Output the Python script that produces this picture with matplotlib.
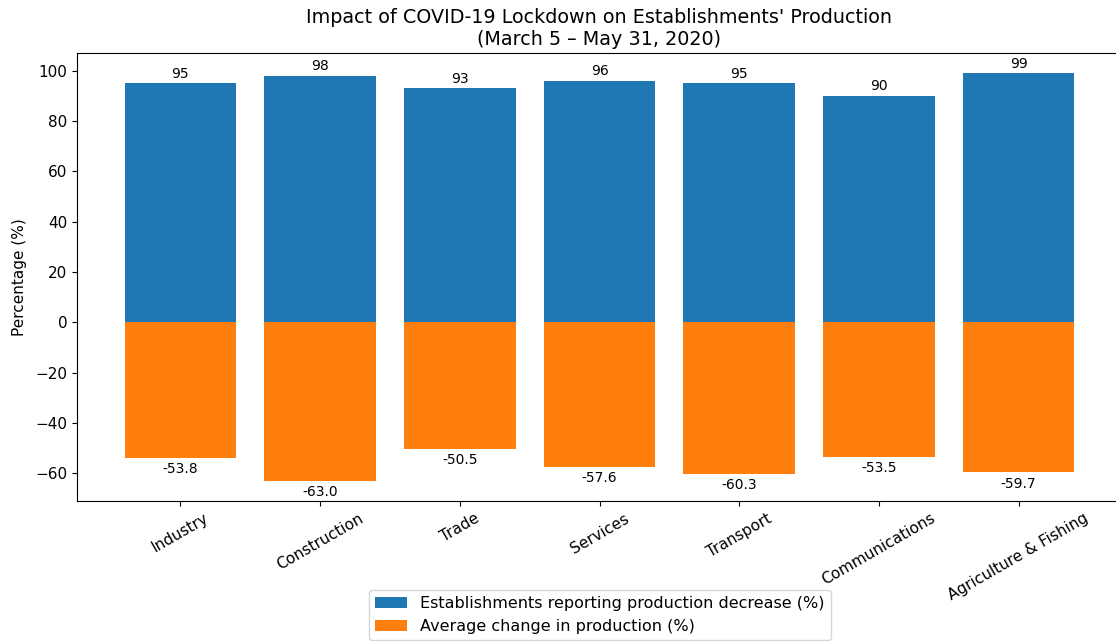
import matplotlib.pyplot as plt
import numpy as np

sectors = ['Industry', 'Construction', 'Trade', 'Services', 'Transport',
           'Communications', 'Agriculture & Fishing']
pct_decrease = [95, 98, 93, 96, 95, 90, 99]
avg_change = [-53.8, -63.0, -50.5, -57.6, -60.3, -53.5, -59.7]

fig = plt.figure(figsize=(11.16, 6.41), dpi=100)
# axes runs slightly past the right edge, like the cropped original
ax = fig.add_axes([77 / 1116, 1 - 501 / 641, (1122 - 77) / 1116, 448 / 641])

x = np.arange(len(sectors))
b1 = ax.bar(x, pct_decrease, width=0.8, color='#1f77b4',
            label='Establishments reporting production decrease (%)')
b2 = ax.bar(x, avg_change, width=0.8, color='#ff7f0e',
            label='Average change in production (%)')

ax.bar_label(b1, labels=[f'{v}' for v in pct_decrease], padding=2, fontsize=10)
ax.bar_label(b2, labels=[f'{v:.1f}' for v in avg_change], padding=3, fontsize=10)

ax.set_xticks(x)
ax.set_xticklabels(sectors, rotation=30, fontsize=11)
ax.tick_params(axis='y', labelsize=11)
ax.set_xlim(-0.74, 6.74)
ax.set_ylim(-71.1, 107.1)
ax.spines['right'].set_visible(False)
ax.set_ylabel('Percentage (%)', fontsize=11, labelpad=6)
ax.set_title("Impact of COVID-19 Lockdown on Establishments' Production\n(March 5 \u2013 May 31, 2020)",
             fontsize=13.8)
ax.legend(loc='upper center', bbox_to_anchor=(0.5, -0.18), fontsize=11.5)

fig.savefig('out.png', dpi=100)
